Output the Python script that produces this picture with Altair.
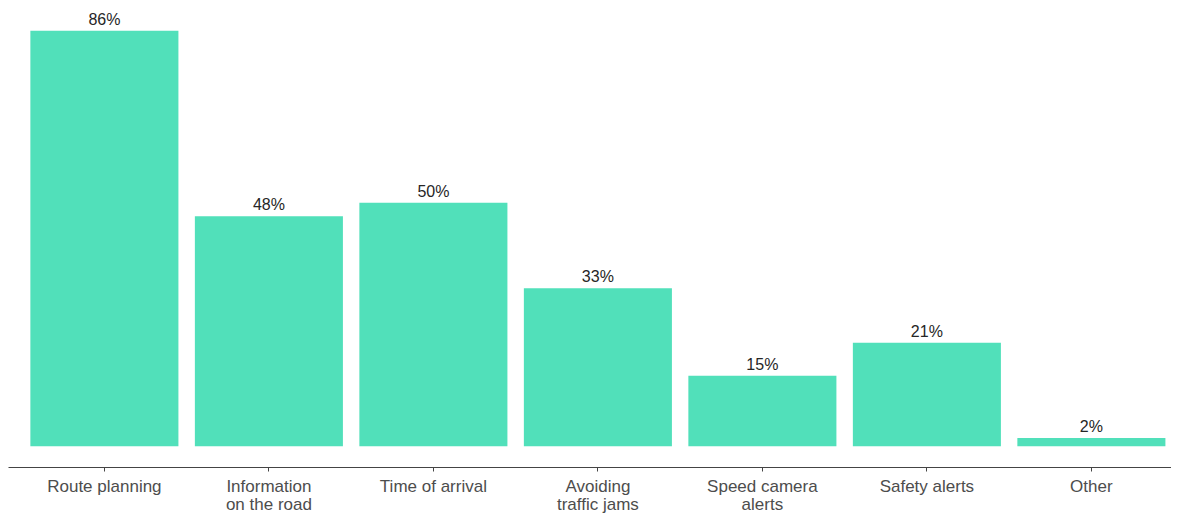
import altair as alt
import pandas as pd

categories = ["Route planning", "Information\non the road", "Time of arrival",
              "Avoiding\ntraffic jams", "Speed camera\nalerts", "Safety alerts", "Other"]
values = [86.0, 47.6, 50.4, 32.7, 14.6, 21.4, 1.7]
labels = ["86%", "48%", "50%", "33%", "15%", "21%", "2%"]

df = pd.DataFrame({"category": categories, "value": values, "label": labels})

FONT = "Liberation Sans, Arial, sans-serif"

x = alt.X(
    "category:N",
    sort=categories,
    scale=alt.Scale(paddingInner=0.1, paddingOuter=0.085, align=0.8),
    axis=alt.Axis(
        title=None,
        labelAngle=0,
        labelExpr="split(datum.label, '\\n')",
        labelFont=FONT,
        labelFontSize=17,
        labelColor="#4D4D4D",
        labelLineHeight=18,
        labelPadding=7,
        tickSize=4,
        tickColor="#444444",
        domainColor="#444444",
        domainWidth=1,
        grid=False,
    ),
)

y_scale = alt.Scale(domain=[-4.3, 90.3], nice=False, zero=False)

bars = alt.Chart(df).mark_bar(color="#51E0BA").encode(
    x=x,
    y=alt.Y("value:Q", scale=y_scale, axis=None),
    y2=alt.datum(0),
)

text = alt.Chart(df).mark_text(
    font=FONT, fontSize=16, color="#262626", baseline="alphabetic", dy=-6
).encode(
    x=alt.X("category:N", sort=categories),
    y=alt.Y("value:Q", scale=y_scale, axis=None),
    text="label:N",
)

chart = (bars + text).properties(
    width=1163,
    height=457,
    padding={"left": 0, "right": 0, "top": 2, "bottom": 47},
    autosize=alt.AutoSizeParams(type="none"),
).configure_view(stroke=None)

chart.save("out.html", embed_options={"renderer": "svg", "actions": False})
